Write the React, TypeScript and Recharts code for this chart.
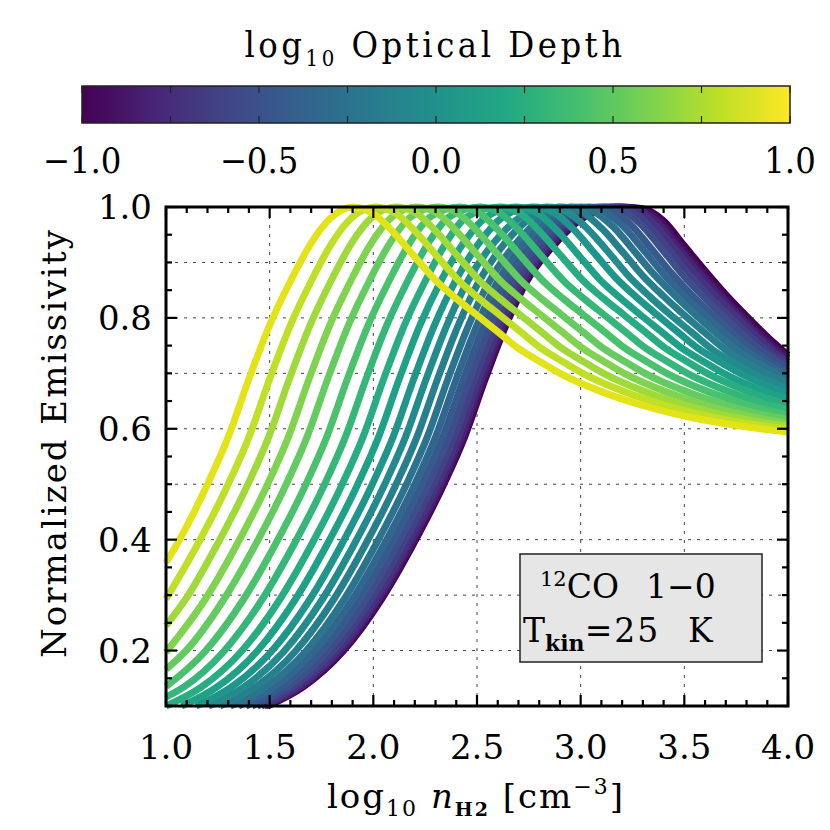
import React from 'react';
import {
  LineChart,
  ComposedChart,
  Line,
  XAxis,
  YAxis,
  CartesianGrid,
  ReferenceArea,
} from 'recharts';

// log10 optical depth of each curve, top (yellow) to bottom (purple)
const LOG_TAU = [1.0, 0.9, 0.8, 0.7, 0.6, 0.5, 0.4, 0.3, 0.2, 0.1, 0.0, -0.1, -0.2, -0.3, -0.4, -0.5, -0.6, -0.7, -0.8, -0.9, -1.0];

const CURVE_COLORS = [
  '#e2e418', '#c0df25', '#a0da39', '#7fd34e', '#63cb5f', '#4ac16d', '#35b779',
  '#27ad81', '#1fa187', '#1f968b', '#238a8d', '#277f8e', '#2c738e', '#31678e',
  '#375a8c', '#3d4e8a', '#424086', '#46327e', '#482374', '#471163', '#440154',
];

// [log10 n_H2, normalized emissivity]
const T_P10 = [[1.0, 0.359], [1.05, 0.39], [1.2, 0.5], [1.3, 0.585], [1.4, 0.69], [1.5, 0.787], [1.6, 0.866], [1.7, 0.935], [1.8, 0.982], [1.9, 1.0], [2.0, 0.988], [2.1, 0.953], [2.2, 0.91], [2.3, 0.868], [2.4, 0.835], [2.5, 0.805], [2.6, 0.775], [2.7, 0.745], [2.8, 0.722], [2.9, 0.7], [3.1, 0.667], [3.3, 0.642], [3.5, 0.623], [3.7, 0.609], [4.0, 0.594]];
const T_P09 = [[1.0, 0.293], [1.15, 0.39], [1.3, 0.5], [1.4, 0.585], [1.5, 0.69], [1.6, 0.787], [1.7, 0.866], [1.8, 0.935], [1.9, 0.982], [2.01, 1.0], [2.11, 0.988], [2.21, 0.953], [2.31, 0.91], [2.41, 0.868], [2.51, 0.835], [2.61, 0.805], [2.71, 0.775], [2.81, 0.745], [2.91, 0.722], [3.01, 0.7], [3.21, 0.667], [3.41, 0.642], [3.61, 0.623], [3.81, 0.609], [4.0, 0.6]];
const T_P08 = [[1.0, 0.245], [1.095, 0.293], [1.245, 0.39], [1.395, 0.5], [1.495, 0.585], [1.595, 0.69], [1.695, 0.787], [1.795, 0.866], [1.895, 0.935], [1.995, 0.982], [2.11, 1.0], [2.21, 0.988], [2.31, 0.953], [2.41, 0.91], [2.51, 0.868], [2.61, 0.835], [2.71, 0.805], [2.81, 0.775], [2.91, 0.745], [3.01, 0.722], [3.11, 0.7], [3.31, 0.667], [3.51, 0.642], [3.71, 0.623], [4.0, 0.605]];
const T_P07 = [[1.0, 0.197], [1.19, 0.293], [1.34, 0.39], [1.49, 0.5], [1.59, 0.585], [1.69, 0.69], [1.79, 0.787], [1.89, 0.866], [1.99, 0.935], [2.09, 0.982], [2.21, 1.0], [2.31, 0.988], [2.41, 0.953], [2.51, 0.91], [2.61, 0.868], [2.71, 0.835], [2.81, 0.805], [2.91, 0.775], [3.01, 0.745], [3.11, 0.722], [3.21, 0.7], [3.41, 0.667], [3.61, 0.642], [3.81, 0.623], [4.0, 0.61]];
const T_P06 = [[1.0, 0.166], [1.09, 0.197], [1.28, 0.293], [1.43, 0.39], [1.58, 0.5], [1.68, 0.585], [1.78, 0.69], [1.88, 0.787], [1.98, 0.866], [2.08, 0.935], [2.18, 0.982], [2.31, 1.0], [2.41, 0.988], [2.51, 0.953], [2.61, 0.91], [2.71, 0.868], [2.81, 0.835], [2.91, 0.805], [3.01, 0.775], [3.11, 0.745], [3.21, 0.722], [3.31, 0.7], [3.51, 0.667], [3.71, 0.642], [3.91, 0.623], [4.0, 0.617]];
const T_P05 = [[1.0, 0.135], [1.185, 0.197], [1.375, 0.293], [1.525, 0.39], [1.675, 0.5], [1.775, 0.585], [1.875, 0.69], [1.975, 0.787], [2.075, 0.866], [2.175, 0.935], [2.275, 0.982], [2.415, 1.0], [2.515, 0.988], [2.615, 0.953], [2.715, 0.91], [2.815, 0.868], [2.915, 0.835], [3.015, 0.805], [3.115, 0.775], [3.215, 0.745], [3.315, 0.722], [3.415, 0.7], [3.615, 0.667], [3.815, 0.642], [4.0, 0.625]];
const T_P04 = [[1.0, 0.116], [1.085, 0.134], [1.275, 0.197], [1.465, 0.293], [1.615, 0.39], [1.765, 0.5], [1.865, 0.585], [1.965, 0.69], [2.065, 0.787], [2.165, 0.866], [2.265, 0.935], [2.365, 0.982], [2.515, 1.0], [2.615, 0.988], [2.715, 0.953], [2.815, 0.91], [2.915, 0.868], [3.015, 0.835], [3.115, 0.805], [3.215, 0.775], [3.315, 0.745], [3.415, 0.722], [3.515, 0.7], [3.715, 0.667], [3.915, 0.642], [4.0, 0.634]];
const T_P03 = [[1.0, 0.1], [1.17, 0.134], [1.36, 0.197], [1.55, 0.293], [1.7, 0.39], [1.85, 0.5], [1.95, 0.585], [2.05, 0.69], [2.15, 0.787], [2.25, 0.866], [2.35, 0.935], [2.45, 0.982], [2.61, 1.0], [2.71, 0.988], [2.81, 0.953], [2.91, 0.91], [3.01, 0.868], [3.11, 0.835], [3.21, 0.805], [3.31, 0.775], [3.41, 0.745], [3.51, 0.722], [3.61, 0.7], [3.81, 0.667], [4.0, 0.643]];
const T_P02 = [[1.075, 0.1], [1.245, 0.134], [1.435, 0.197], [1.625, 0.293], [1.775, 0.39], [1.925, 0.5], [2.025, 0.585], [2.125, 0.69], [2.225, 0.787], [2.325, 0.866], [2.435, 0.935], [2.545, 0.982], [2.69, 1.0], [2.79, 0.989], [2.89, 0.956], [2.99, 0.913], [3.09, 0.87], [3.19, 0.836], [3.29, 0.805], [3.39, 0.775], [3.49, 0.745], [3.59, 0.722], [3.69, 0.7], [3.89, 0.667], [4.0, 0.653]];
const T_P01 = [[1.145, 0.1], [1.315, 0.134], [1.505, 0.197], [1.695, 0.293], [1.845, 0.39], [1.995, 0.5], [2.095, 0.585], [2.195, 0.69], [2.295, 0.787], [2.395, 0.866], [2.51, 0.935], [2.625, 0.982], [2.77, 1.0], [2.87, 0.99], [2.97, 0.958], [3.07, 0.915], [3.17, 0.872], [3.27, 0.837], [3.37, 0.805], [3.47, 0.774], [3.57, 0.744], [3.67, 0.721], [3.77, 0.7], [4.0, 0.663]];
const T_000 = [[1.205, 0.1], [1.375, 0.134], [1.565, 0.197], [1.755, 0.293], [1.905, 0.39], [2.055, 0.5], [2.155, 0.585], [2.255, 0.69], [2.355, 0.787], [2.455, 0.866], [2.58, 0.935], [2.71, 0.982], [2.835, 1.0], [2.935, 0.991], [3.035, 0.96], [3.135, 0.918], [3.235, 0.874], [3.335, 0.838], [3.435, 0.805], [3.535, 0.774], [3.635, 0.743], [3.735, 0.72], [3.835, 0.699], [4.0, 0.672]];
const T_M01 = [[1.26, 0.1], [1.43, 0.134], [1.62, 0.197], [1.81, 0.293], [1.96, 0.39], [2.11, 0.5], [2.21, 0.585], [2.31, 0.69], [2.41, 0.787], [2.51, 0.866], [2.635, 0.935], [2.765, 0.982], [2.9, 1.0], [3.0, 0.992], [3.1, 0.962], [3.2, 0.92], [3.3, 0.876], [3.4, 0.839], [3.5, 0.805], [3.6, 0.773], [3.7, 0.742], [3.8, 0.719], [3.9, 0.699], [4.0, 0.683]];
const T_M02 = [[1.31, 0.1], [1.48, 0.134], [1.67, 0.197], [1.86, 0.293], [2.01, 0.39], [2.16, 0.5], [2.26, 0.585], [2.36, 0.69], [2.46, 0.787], [2.56, 0.866], [2.69, 0.935], [2.82, 0.982], [2.955, 1.0], [3.055, 0.993], [3.155, 0.965], [3.255, 0.922], [3.355, 0.878], [3.455, 0.84], [3.555, 0.805], [3.655, 0.772], [3.755, 0.741], [3.855, 0.718], [4.0, 0.69]];
const T_M03 = [[1.35, 0.1], [1.52, 0.134], [1.71, 0.197], [1.9, 0.293], [2.05, 0.39], [2.2, 0.5], [2.3, 0.585], [2.4, 0.69], [2.5, 0.787], [2.6, 0.866], [2.73, 0.935], [2.86, 0.982], [3.0, 1.0], [3.1, 0.994], [3.2, 0.967], [3.3, 0.924], [3.4, 0.879], [3.5, 0.84], [3.6, 0.805], [3.7, 0.771], [3.8, 0.74], [3.9, 0.716], [4.0, 0.697]];
const T_M04 = [[1.385, 0.1], [1.555, 0.134], [1.745, 0.197], [1.935, 0.293], [2.085, 0.39], [2.235, 0.5], [2.335, 0.585], [2.435, 0.69], [2.535, 0.787], [2.635, 0.866], [2.77, 0.935], [2.9, 0.982], [3.04, 1.0], [3.14, 0.995], [3.24, 0.969], [3.34, 0.925], [3.44, 0.88], [3.54, 0.84], [3.64, 0.804], [3.74, 0.77], [3.84, 0.739], [3.94, 0.715], [4.0, 0.703]];
const T_M05 = [[1.415, 0.1], [1.585, 0.134], [1.775, 0.197], [1.965, 0.293], [2.115, 0.39], [2.265, 0.5], [2.365, 0.585], [2.465, 0.69], [2.565, 0.787], [2.665, 0.866], [2.8, 0.935], [2.935, 0.982], [3.085, 1.0], [3.185, 0.996], [3.285, 0.971], [3.385, 0.927], [3.485, 0.881], [3.585, 0.841], [3.685, 0.804], [3.785, 0.769], [3.885, 0.737], [4.0, 0.71]];
const T_M06 = [[1.44, 0.1], [1.61, 0.134], [1.8, 0.197], [1.99, 0.293], [2.14, 0.39], [2.29, 0.5], [2.39, 0.585], [2.49, 0.69], [2.59, 0.787], [2.69, 0.866], [2.825, 0.935], [2.96, 0.982], [3.115, 1.0], [3.215, 0.996], [3.315, 0.972], [3.415, 0.928], [3.515, 0.882], [3.615, 0.841], [3.715, 0.804], [3.815, 0.768], [3.915, 0.736], [4.0, 0.715]];
const T_M07 = [[1.46, 0.1], [1.63, 0.134], [1.82, 0.197], [2.01, 0.293], [2.16, 0.39], [2.31, 0.5], [2.41, 0.585], [2.51, 0.69], [2.61, 0.787], [2.71, 0.866], [2.845, 0.935], [2.98, 0.982], [3.145, 1.0], [3.245, 0.997], [3.345, 0.973], [3.445, 0.929], [3.545, 0.883], [3.645, 0.842], [3.745, 0.804], [3.845, 0.767], [3.945, 0.734], [4.0, 0.72]];
const T_M08 = [[1.473, 0.1], [1.643, 0.134], [1.833, 0.197], [2.023, 0.293], [2.173, 0.39], [2.323, 0.5], [2.423, 0.585], [2.523, 0.69], [2.623, 0.787], [2.723, 0.866], [2.86, 0.935], [2.995, 0.982], [3.165, 1.0], [3.265, 0.997], [3.365, 0.974], [3.465, 0.929], [3.565, 0.884], [3.665, 0.842], [3.765, 0.803], [3.865, 0.766], [3.965, 0.733], [4.0, 0.724]];
const T_M09 = [[1.483, 0.1], [1.653, 0.134], [1.843, 0.197], [2.033, 0.293], [2.183, 0.39], [2.333, 0.5], [2.433, 0.585], [2.533, 0.69], [2.633, 0.787], [2.733, 0.866], [2.87, 0.935], [3.005, 0.982], [3.18, 1.0], [3.28, 0.997], [3.38, 0.975], [3.48, 0.93], [3.58, 0.885], [3.68, 0.842], [3.78, 0.803], [3.88, 0.766], [3.98, 0.734], [4.0, 0.728]];
const T_M10 = [[1.49, 0.1], [1.66, 0.134], [1.85, 0.197], [2.04, 0.293], [2.19, 0.39], [2.34, 0.5], [2.44, 0.585], [2.54, 0.69], [2.64, 0.787], [2.74, 0.866], [2.88, 0.935], [3.02, 0.982], [3.2, 1.0], [3.3, 0.997], [3.4, 0.975], [3.5, 0.93], [3.6, 0.885], [3.7, 0.842], [3.8, 0.803], [3.9, 0.766], [4.0, 0.733]];

const CURVES = [
  T_P10, T_P09, T_P08, T_P07, T_P06, T_P05, T_P04, T_P03, T_P02, T_P01, T_000,
  T_M01, T_M02, T_M03, T_M04, T_M05, T_M06, T_M07, T_M08, T_M09, T_M10,
];

const X_TICKS = [1.0, 1.1, 1.2, 1.3, 1.4, 1.5, 1.6, 1.7, 1.8, 1.9, 2.0, 2.1, 2.2, 2.3, 2.4, 2.5, 2.6, 2.7, 2.8, 2.9, 3.0, 3.1, 3.2, 3.3, 3.4, 3.5, 3.6, 3.7, 3.8, 3.9, 4.0];
const Y_TICKS = [0.1, 0.15, 0.2, 0.25, 0.3, 0.35, 0.4, 0.45, 0.5, 0.55, 0.6, 0.65, 0.7, 0.75, 0.8, 0.85, 0.9, 0.95, 1.0];
const GRID_X = [1.5, 2.0, 2.5, 3.0, 3.5];
const GRID_Y = [0.2, 0.3, 0.4, 0.5, 0.6, 0.7, 0.8, 0.9];
const FRAME_RANGE = [{ x: 1.0, y: 0.1 }, { x: 4.0, y: 1.0 }];
const CB_TICKS = [-1.0, -0.75, -0.5, -0.25, 0.0, 0.25, 0.5, 0.75, 1.0];
const CB_RANGE = [{ t: -1.0 }, { t: 1.0 }];
const VIRIDIS = ['#440154', '#482475', '#414487', '#355f8d', '#2a788e', '#21918c', '#22a884', '#44bf70', '#7ad151', '#bddf26', '#fde725'];

const PLOT = { left: 166, right: 788, top: 207, bottom: 706 };
const CB = { top: 86, bottom: 123 };
const SERIF = "'DejaVu Serif', 'Liberation Serif', serif";
const SERIF_C = "'DejaVu Serif Condensed', 'DejaVu Serif', serif";
const layer: React.CSSProperties = { position: 'absolute', left: 0, top: 0 };

const onStep = (v: number, step: number) => Math.abs(v / step - Math.round(v / step)) < 1e-6;
const fmtMinus = (v: number) => (v < -1e-9 ? '\u2212' + Math.abs(v).toFixed(1) : Math.abs(v).toFixed(1));

function XTick(props: any) {
  const { x, y, payload } = props;
  const v = payload.value;
  const major = onStep(v, 0.5);
  const len = major ? 11 : 6;
  return (
    <g>
      <line x1={x} x2={x} y1={y} y2={y - len} stroke="#000" strokeWidth={2.2} />
      <line x1={x} x2={x} y1={PLOT.top} y2={PLOT.top + len} stroke="#000" strokeWidth={2.2} />
      {major && (
        <text x={x} y={y + 53} textAnchor="middle" fontFamily={SERIF} fontSize={34} fill="#000">
          {v.toFixed(1)}
        </text>
      )}
    </g>
  );
}

function YTick(props: any) {
  const { x, y, payload } = props;
  const v = payload.value;
  const major = onStep(v, 0.2);
  const len = major ? 11 : 6;
  return (
    <g>
      <line x1={x} x2={x + len} y1={y} y2={y} stroke="#000" strokeWidth={2.2} />
      <line x1={PLOT.right} x2={PLOT.right - len} y1={y} y2={y} stroke="#000" strokeWidth={2.2} />
      {major && (
        <text x={x - 14} y={y} dy="0.36em" textAnchor="end" fontFamily={SERIF} fontSize={34} fill="#000">
          {v.toFixed(1)}
        </text>
      )}
    </g>
  );
}

function CbTick(props: any) {
  const { x, y, payload } = props;
  const v = payload.value;
  return (
    <g>
      <line x1={x} x2={x} y1={y} y2={y - 7} stroke="#222" strokeWidth={1.2} />
      <line x1={x} x2={x} y1={CB.top} y2={CB.top + 7} stroke="#222" strokeWidth={1.2} />
      {onStep(v, 0.5) && (
        <text x={x} y={y + 50} textAnchor="middle" fontFamily={SERIF_C} fontStretch="condensed" fontSize={36} fill="#000">
          {fmtMinus(v)}
        </text>
      )}
    </g>
  );
}

function ColorBar() {
  return (
    <ComposedChart width={830} height={200} data={CB_RANGE} margin={{ top: CB.top, right: 40, bottom: 0, left: 82 }}>
      <defs>
        <linearGradient id="viridisGrad" x1="0" y1="0" x2="1" y2="0">
          {VIRIDIS.map((c, i) => (
            <stop key={c} offset={`${i * 10}%`} stopColor={c} />
          ))}
        </linearGradient>
      </defs>
      <XAxis
        type="number"
        dataKey="t"
        domain={[-1, 1]}
        ticks={CB_TICKS}
        interval={0}
        tick={<CbTick />}
        tickLine={false}
        axisLine={false}
        tickSize={0}
        tickMargin={0}
        height={77}
        allowDataOverflow
      />
      <YAxis type="number" domain={[0, 1]} hide allowDataOverflow />
      <ReferenceArea x1={-1} x2={1} y1={0} y2={1} fill="url(#viridisGrad)" fillOpacity={1} stroke="#222" strokeWidth={1.5} />
      <text x={435} y={57} textAnchor="middle" fontFamily={SERIF_C} fontStretch="condensed" fontSize={36} letterSpacing={3.5} fill="#000">
        log
        <tspan fontSize={22} dy={9}>10</tspan>
        <tspan dy={-9}> Optical Depth</tspan>
      </text>
    </ComposedChart>
  );
}

// grid and the curves
function CurveLayer() {
  const order = CURVES.map((_, i) => i).reverse();
  return (
    <LineChart
      width={830}
      height={830}
      margin={{ top: PLOT.top, right: 830 - PLOT.right, bottom: 830 - PLOT.bottom, left: PLOT.left }}
    >
      <CartesianGrid horizontalValues={GRID_Y} verticalValues={GRID_X} stroke="#444" strokeDasharray="3 6" strokeWidth={1} />
      <XAxis type="number" dataKey="x" domain={[1, 4]} hide />
      <YAxis type="number" domain={[0.1, 1]} hide />
      {order.map((i) => (
        <Line
          key={LOG_TAU[i]}
          name={`log tau ${LOG_TAU[i]}`}
          data={CURVES[i].map(([x, v]) => ({ x, v }))}
          dataKey="v"
          type="monotone"
          stroke={CURVE_COLORS[i]}
          strokeWidth={7}
          strokeLinejoin="round"
          dot={false}
          activeDot={false}
          isAnimationActive={false}
        />
      ))}
    </LineChart>
  );
}

// frame, ticks, labels and the annotation box drawn over the curves
function FrameLayer() {
  return (
    <LineChart
      width={830}
      height={830}
      data={FRAME_RANGE}
      margin={{ top: PLOT.top, right: 830 - PLOT.right, bottom: 830 - PLOT.bottom - 50, left: PLOT.left - 60 }}
    >
      <XAxis
        type="number"
        dataKey="x"
        domain={[1, 4]}
        ticks={X_TICKS}
        interval={0}
        tick={<XTick />}
        tickLine={false}
        axisLine={false}
        tickSize={0}
        tickMargin={0}
        height={50}
        allowDataOverflow
      />
      <YAxis
        type="number"
        dataKey="y"
        domain={[0.1, 1]}
        ticks={Y_TICKS}
        interval={0}
        tick={<YTick />}
        tickLine={false}
        axisLine={false}
        tickSize={0}
        tickMargin={0}
        width={60}
        allowDataOverflow
      />
      <ReferenceArea x1={1} x2={4} y1={0.1} y2={1} fill="none" stroke="#000" strokeWidth={3} />
      <g>
        <rect x={520} y={554} width={242} height={108} fill="#e6e6e6" stroke="#222" strokeWidth={1.5} />
        <text x={540} y={598} fontFamily={SERIF} fontSize={33} fill="#000">
          <tspan fontSize={21} dy={-12}>12</tspan>
          <tspan dy={12}>CO</tspan>
          <tspan x={646}>1{'\u2212'}0</tspan>
        </text>
        <text x={523} y={642} fontFamily={SERIF} fontSize={33} fill="#000">
          T
          <tspan fontSize={22} fontWeight="bold" dy={9}>kin</tspan>
          <tspan dy={-9} letterSpacing={2}>=25</tspan>
          <tspan x={688}>K</tspan>
        </text>
      </g>
      <text
        x={54}
        y={443}
        transform="rotate(-90 54 443)"
        textAnchor="middle"
        dominantBaseline="central"
        fontFamily={SERIF}
        fontSize={34}
        letterSpacing={2}
        fill="#000"
      >
        Normalized Emissivity
      </text>
      <text x={476} y={808} textAnchor="middle" fontFamily={SERIF} fontSize={34} letterSpacing={2} fill="#000">
        log
        <tspan fontSize={22} dy={8}>10</tspan>
        <tspan dy={-8}>{'  '}</tspan>
        <tspan fontStyle="italic">n</tspan>
        <tspan fontSize={19} fontWeight="bold" dy={8}>H2</tspan>
        <tspan dy={-8}> [cm</tspan>
        <tspan fontSize={22} dy={-14}>{'\u2212'}3</tspan>
        <tspan dy={14}>]</tspan>
      </text>
    </LineChart>
  );
}

export default function App() {
  return (
    <div style={{ position: 'absolute', left: 0, top: 0, width: 830, height: 830, background: '#fff' }}>
      <div style={layer}>
        <CurveLayer />
      </div>
      <div style={{ ...layer, pointerEvents: 'none' }}>
        <FrameLayer />
      </div>
      <div style={layer}>
        <ColorBar />
      </div>
    </div>
  );
}
